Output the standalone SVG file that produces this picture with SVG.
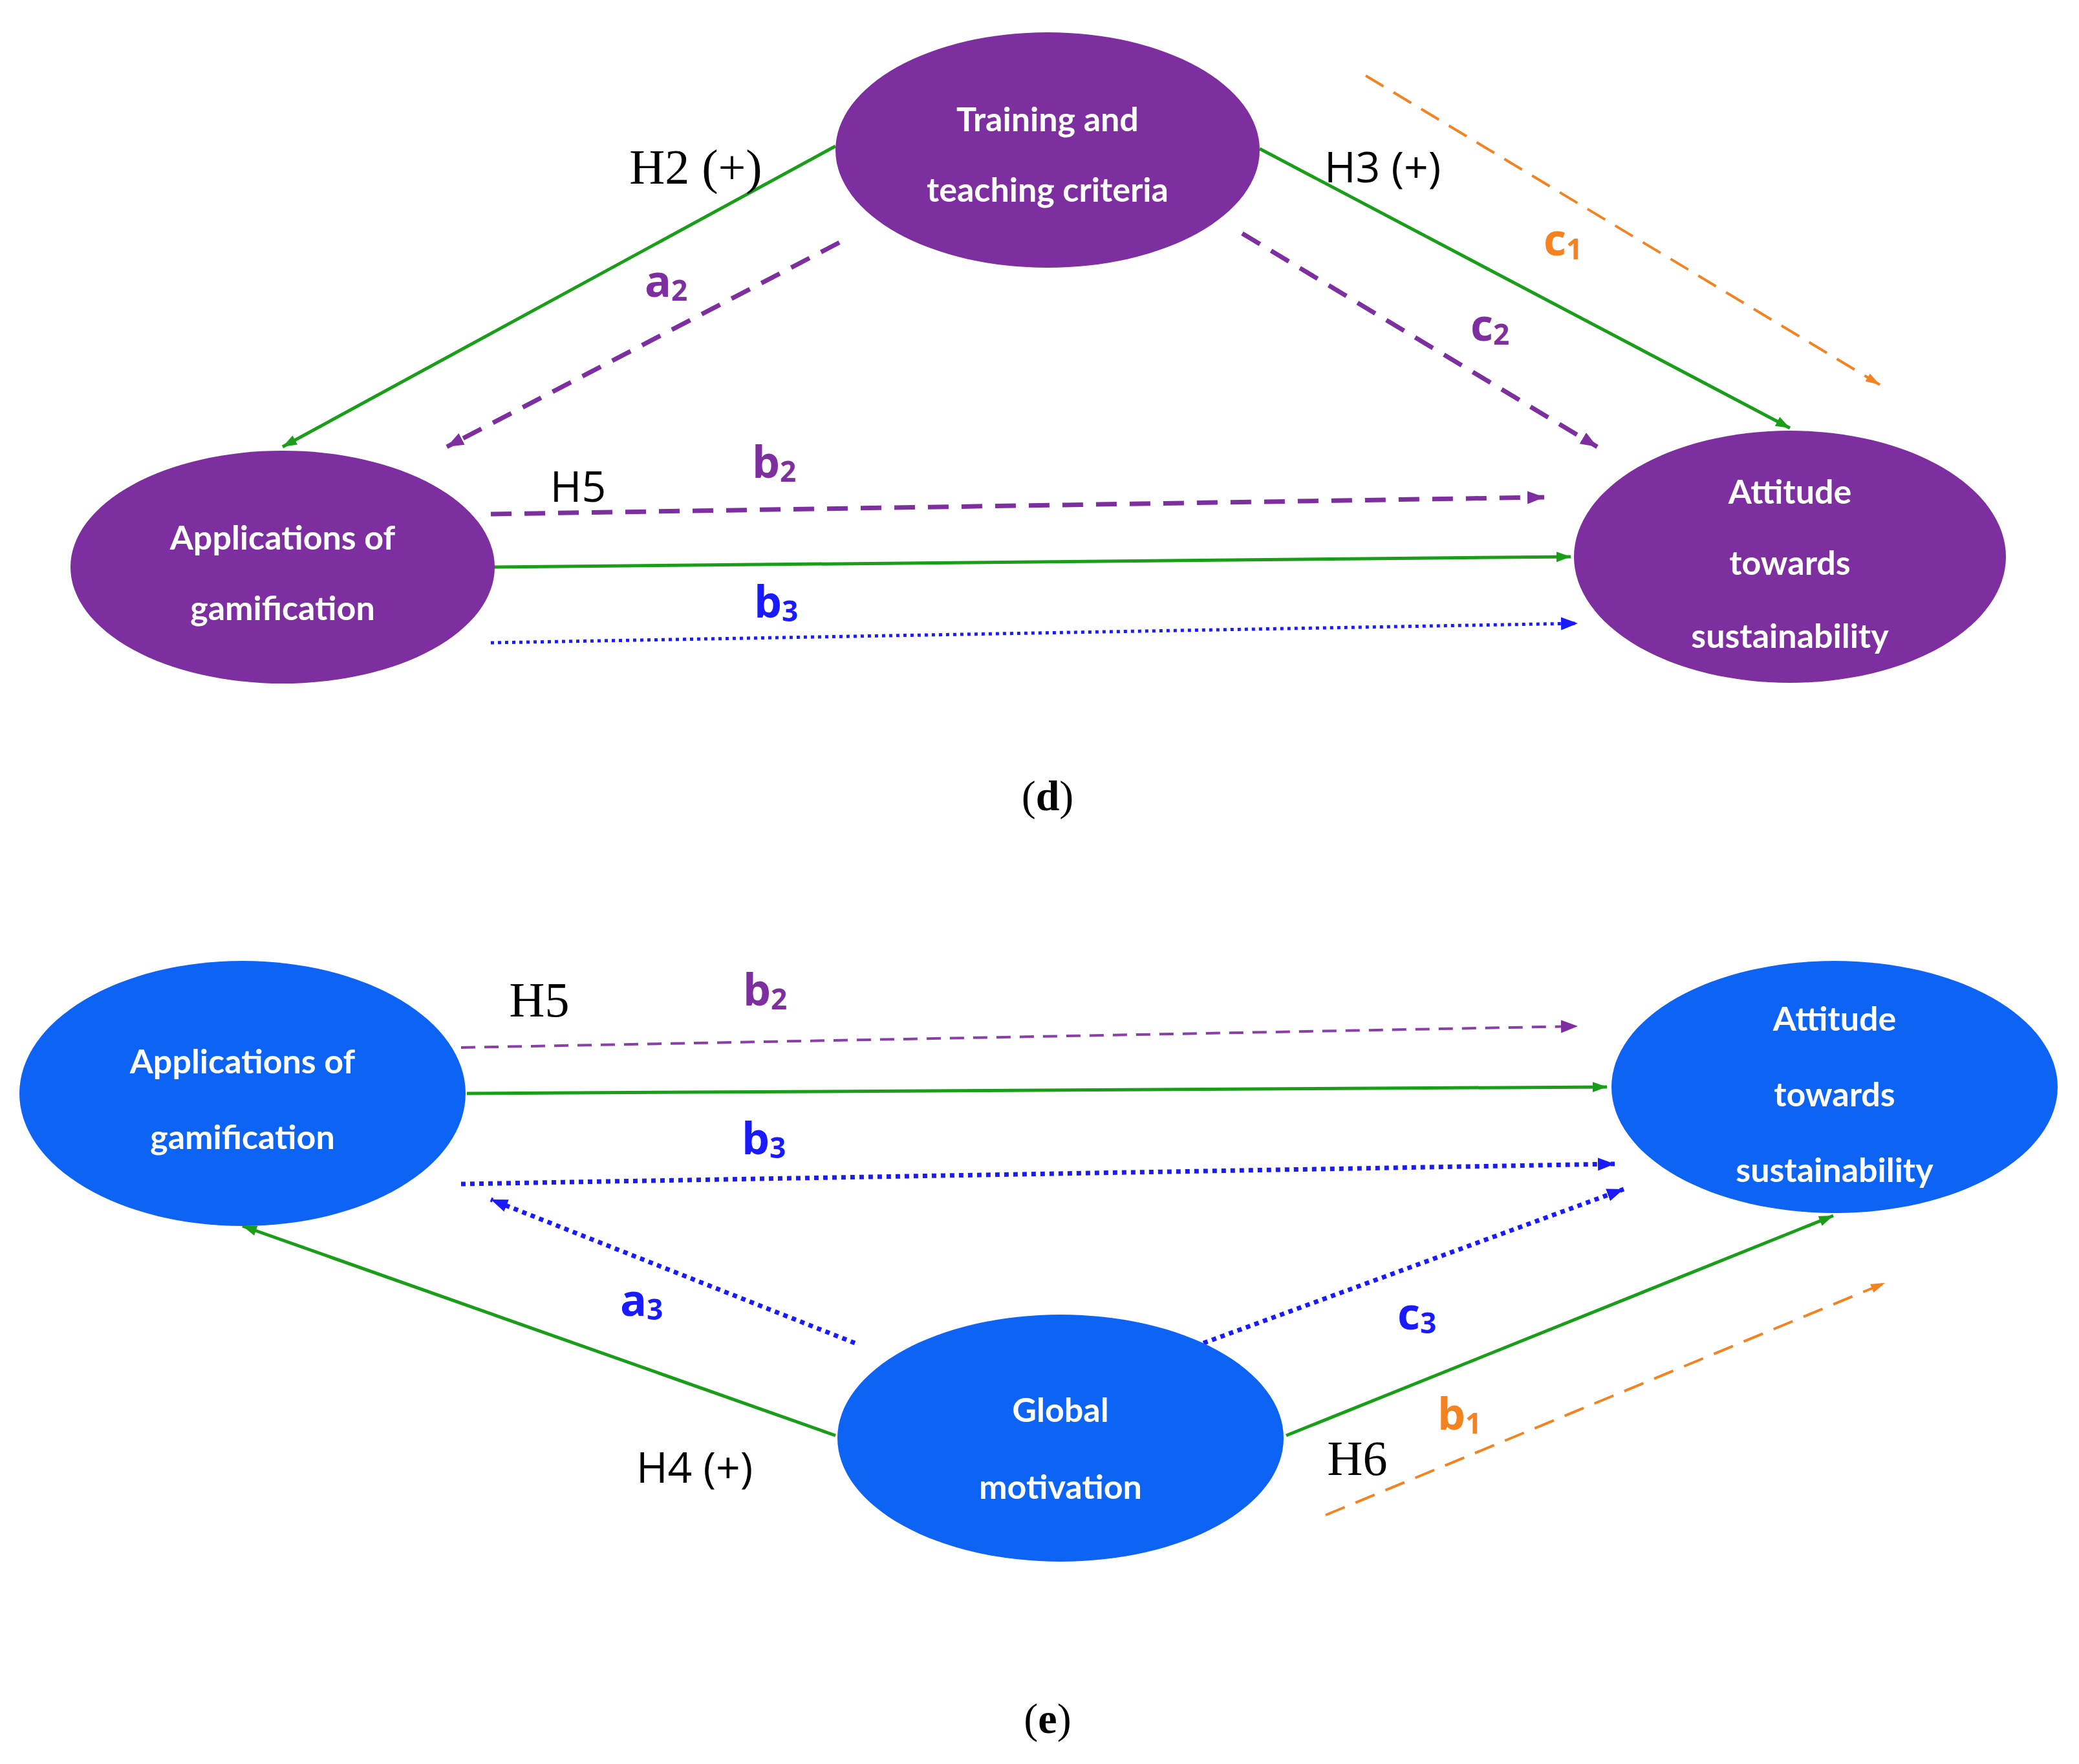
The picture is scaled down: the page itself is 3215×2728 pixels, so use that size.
<svg xmlns="http://www.w3.org/2000/svg" width="3215" height="2728" viewBox="0 0 3215 2728">
<style>
.nt{font-family:Lato,"Open Sans",sans-serif;font-weight:bold;font-size:52px;fill:#fff;text-anchor:middle;dominant-baseline:central}
.hs{font-family:"Liberation Serif",serif;font-size:76px;fill:#000;text-anchor:middle;dominant-baseline:central}
.hn{font-family:"Open Sans",sans-serif;font-size:66px;fill:#000;text-anchor:middle;dominant-baseline:central}
.lb{font-family:"Open Sans",sans-serif;font-weight:bold;font-size:68px;text-anchor:middle;dominant-baseline:central}
.cap{font-family:"Liberation Serif",serif;font-size:66px;fill:#000;text-anchor:middle;dominant-baseline:central}
.g{stroke:#1a9e1a;stroke-width:5;fill:none}
.p{stroke:#7d2e9f;stroke-width:7;stroke-dasharray:32 20;fill:none}
.p2{stroke:#8a3fa8;stroke-width:4;stroke-dasharray:22 14;fill:none}
.o{stroke:#f58220;stroke-width:4;stroke-dasharray:32 18;fill:none}
.b{stroke:#1a1aff;stroke-width:5;stroke-dasharray:5 6;fill:none}
.b2{stroke:#1a1aff;stroke-width:7;stroke-dasharray:7 7;fill:none}
</style>
<defs>
<marker id="ag" markerUnits="userSpaceOnUse" markerWidth="24" markerHeight="20" refX="22" refY="10" orient="auto"><path d="M0,2 L22,10 L0,18 Z" fill="#1a9e1a"/></marker>
<marker id="ap" markerUnits="userSpaceOnUse" markerWidth="28" markerHeight="24" refX="26" refY="12" orient="auto"><path d="M0,2 L26,12 L0,22 Z" fill="#7d2e9f"/></marker>
<marker id="ao" markerUnits="userSpaceOnUse" markerWidth="24" markerHeight="20" refX="22" refY="10" orient="auto"><path d="M0,3 L22,10 L0,17 Z" fill="#f58220"/></marker>
<marker id="ab" markerUnits="userSpaceOnUse" markerWidth="28" markerHeight="24" refX="26" refY="12" orient="auto"><path d="M0,2 L26,12 L0,22 Z" fill="#1a1aff"/></marker>
</defs>
<rect width="3215" height="2728" fill="#fff"/>
<g id="connectors">
<line class="g" x1="1292" y1="226" x2="437" y2="691" marker-end="url(#ag)"/>
<line class="p" x1="1298" y1="375" x2="691" y2="691" marker-end="url(#ap)"/>
<line class="g" x1="1948" y1="230" x2="2768" y2="662" marker-end="url(#ag)"/>
<line class="p" x1="1921" y1="361" x2="2470" y2="691" marker-end="url(#ap)"/>
<line class="o" x1="2112" y1="117" x2="2907" y2="595" marker-end="url(#ao)"/>
<line class="p" x1="759" y1="795" x2="2388" y2="769" marker-end="url(#ap)"/>
<line class="g" x1="763" y1="877" x2="2429" y2="861" marker-end="url(#ag)"/>
<line class="b" x1="759" y1="994" x2="2440" y2="964" marker-end="url(#ab)"/>
<line class="p2" x1="713" y1="1620" x2="2440" y2="1587" marker-end="url(#ap)"/>
<line class="g" x1="722" y1="1691" x2="2485" y2="1681" marker-end="url(#ag)"/>
<line class="b2" x1="713" y1="1831" x2="2497" y2="1800" marker-end="url(#ab)"/>
<line class="b2" x1="1322" y1="2077" x2="759" y2="1855" marker-end="url(#ab)"/>
<line class="g" x1="1292" y1="2220" x2="375" y2="1896" marker-end="url(#ag)"/>
<line class="b2" x1="1861" y1="2077" x2="2511" y2="1839" marker-end="url(#ab)"/>
<line class="g" x1="1989" y1="2220" x2="2835" y2="1880" marker-end="url(#ag)"/>
<line class="o" x1="2050" y1="2343" x2="2915" y2="1984" marker-end="url(#ao)"/>
</g>
<g id="training"><ellipse cx="1620" cy="232" rx="328" ry="182" fill="#7d2e9f"/><text class="nt" x="1620" y="183">Training and</text><text class="nt" x="1620" y="292">teaching criteria</text></g>
<g id="app-d"><ellipse cx="437" cy="877" rx="328" ry="180" fill="#7d2e9f"/><text class="nt" x="437" y="830">Applications of</text><text class="nt" x="437" y="939">gamification</text></g>
<g id="att-d"><ellipse cx="2768" cy="861" rx="334" ry="195" fill="#7d2e9f"/><text class="nt" x="2768" y="759">Attitude</text><text class="nt" x="2768" y="869">towards</text><text class="nt" x="2768" y="982">sustainability</text></g>
<g id="app-e"><ellipse cx="375" cy="1691" rx="345" ry="205" fill="#0d63f3"/><text class="nt" x="375" y="1640">Applications of</text><text class="nt" x="375" y="1757">gamification</text></g>
<g id="att-e"><ellipse cx="2837" cy="1681" rx="345" ry="195" fill="#0d63f3"/><text class="nt" x="2837" y="1574">Attitude</text><text class="nt" x="2837" y="1691">towards</text><text class="nt" x="2837" y="1808">sustainability</text></g>
<g id="global"><ellipse cx="1640" cy="2224" rx="345" ry="191" fill="#0d63f3"/><text class="nt" x="1640" y="2179">Global</text><text class="nt" x="1640" y="2298">motivation</text></g>
<g id="labels">
<text class="hs" x="1076" y="258">H2 (+)</text>
<text class="hn" x="2138" y="256">H3 (+)</text>
<text class="hn" x="894" y="750">H5</text>
<text class="lb" x="1030" y="432" fill="#7d2e9f">a<tspan font-size="44" dy="16">2</tspan></text>
<text class="lb" x="2304" y="500" fill="#7d2e9f">c<tspan font-size="44" dy="16">2</tspan></text>
<text class="lb" x="2417" y="368" fill="#f58220">c<tspan font-size="44" dy="16">1</tspan></text>
<text class="lb" x="1197" y="712" fill="#7d2e9f">b<tspan font-size="44" dy="16">2</tspan></text>
<text class="lb" x="1200" y="928" fill="#1a1aff">b<tspan font-size="44" dy="16">3</tspan></text>
<text class="cap" x="1620" y="1230">(<tspan font-weight="bold">d</tspan>)</text>
<text class="hs" x="834" y="1546">H5</text>
<text class="lb" x="1183" y="1528" fill="#7d2e9f">b<tspan font-size="44" dy="16">2</tspan></text>
<text class="lb" x="1181" y="1758" fill="#1a1aff">b<tspan font-size="44" dy="16">3</tspan></text>
<text class="lb" x="992" y="2008" fill="#1a1aff">a<tspan font-size="44" dy="16">3</tspan></text>
<text class="lb" x="2191" y="2029" fill="#1a1aff">c<tspan font-size="44" dy="16">3</tspan></text>
<text class="hn" x="1074" y="2267">H4 (+)</text>
<text class="hs" x="2099" y="2255">H6</text>
<text class="lb" x="2257" y="2184" fill="#f58220">b<tspan font-size="44" dy="16">1</tspan></text>
<text class="cap" x="1620" y="2657">(<tspan font-weight="bold">e</tspan>)</text>
</g>
</svg>
